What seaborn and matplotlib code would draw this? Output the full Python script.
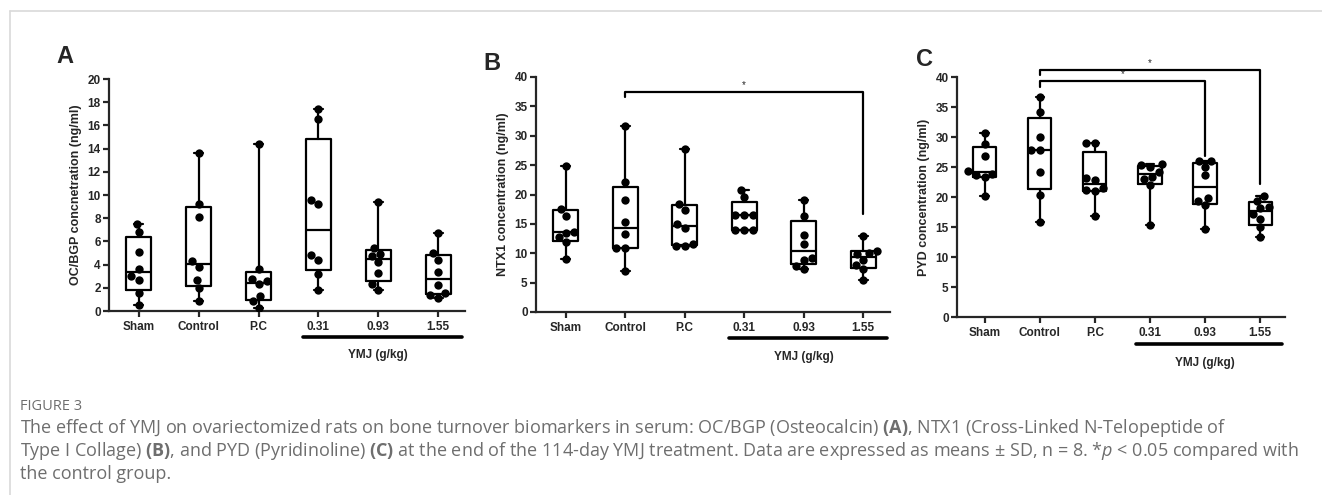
import numpy as np
import pandas as pd
import matplotlib
matplotlib.use("Agg")
import matplotlib.pyplot as plt
import matplotlib.transforms as mtransforms
from matplotlib.lines import Line2D
import seaborn as sns

# group labels on the x axis
groups = ["Sham", "Control", "P.C", "0.31", "0.93", "1.55"]

# individual animals (n = 8 per group)
oc_bgp = [
    [0.55, 1.55, 2.65, 3.0, 3.65, 5.05, 6.8, 7.5],
    [0.9, 2.0, 2.7, 3.8, 4.3, 8.1, 9.2, 13.6],
    [0.3, 0.85, 1.3, 2.3, 2.55, 2.8, 3.6, 14.4],
    [1.8, 3.2, 4.4, 4.8, 9.2, 9.6, 16.55, 17.4],
    [1.8, 2.3, 3.3, 4.2, 4.7, 4.9, 5.4, 9.4],
    [1.15, 1.4, 1.55, 2.2, 3.35, 4.4, 5.0, 6.75],
]
ntx1 = [
    [9.0, 11.9, 12.7, 13.5, 13.7, 16.4, 17.6, 24.8],
    [6.9, 10.9, 10.9, 13.3, 15.3, 19.0, 22.1, 31.6],
    [11.3, 11.3, 11.5, 14.3, 14.9, 17.4, 18.4, 27.7],
    [14.0, 14.0, 14.0, 16.5, 16.5, 16.5, 19.5, 20.8],
    [7.3, 7.9, 8.85, 9.25, 11.6, 13.1, 16.3, 19.0],
    [5.4, 7.3, 8.0, 8.9, 9.9, 10.0, 10.4, 13.0],
]
pyd = [
    [20.1, 23.3, 23.6, 23.9, 24.3, 26.8, 28.9, 30.7],
    [15.9, 20.4, 24.2, 27.9, 27.9, 30.0, 34.2, 36.7],
    [16.8, 21.0, 21.1, 21.5, 22.9, 23.1, 29.0, 29.0],
    [15.4, 22.0, 23.0, 23.4, 24.2, 25.0, 25.3, 25.5],
    [14.7, 18.6, 19.3, 19.9, 23.6, 25.0, 26.0, 26.0],
    [13.3, 15.0, 16.4, 17.1, 18.1, 18.3, 19.4, 20.2],
]

sns.set_style("ticks")
plt.rcParams["font.family"] = ["Liberation Sans", "DejaVu Sans"]
plt.rcParams["mathtext.fontset"] = "custom"
plt.rcParams["mathtext.rm"] = "Open Sans"
plt.rcParams["mathtext.bf"] = "Open Sans:bold"
plt.rcParams["mathtext.it"] = "Open Sans:italic"

LW = 1.6


def box_stats(vals):
    # GraphPad style box: (n+1)p quartiles, whiskers min to max
    v = np.asarray(vals)
    q1, med, q3 = np.percentile(v, [25, 50, 75], method="weibull")
    return dict(med=med, q1=q1, q3=q3, whislo=v.min(), whishi=v.max(), fliers=[])


def draw_panel(ax, values, ymax, ystep, ylabel):
    df = pd.DataFrame({
        "group": np.repeat(groups, [len(v) for v in values]),
        "value": np.concatenate(values),
    })
    sns.swarmplot(data=df, x="group", y="value", order=groups, color="black",
                  size=6, ax=ax, zorder=3)
    line = dict(color="black", linewidth=LW)
    ax.bxp([box_stats(v) for v in values], positions=range(len(groups)),
           widths=0.42, capwidths=0.15, showfliers=False, manage_ticks=False,
           boxprops=line, medianprops=line, whiskerprops=line, capprops=line)
    ax.set_xlim(-0.5, 5.45)
    ax.set_ylim(0, ymax)
    ax.set_yticks(np.arange(0, ymax + 0.1, ystep))
    ax.set_xticks(range(len(groups)))
    ax.set_xticklabels(groups, fontsize=8.5, fontweight="bold")
    ax.tick_params(axis="y", labelsize=8.5, width=LW, length=4, pad=2)
    ax.tick_params(axis="x", width=LW, length=4, pad=3)
    for lab in ax.get_yticklabels():
        lab.set_fontweight("bold")
    ax.set_xlabel("")
    ax.set_ylabel(ylabel, fontsize=9, fontweight="bold", labelpad=4)
    sns.despine(ax=ax)
    for side in ["left", "bottom"]:
        ax.spines[side].set_linewidth(LW)

    # "YMJ (g/kg)" underline below the dose groups
    trans = mtransforms.blended_transform_factory(ax.transData, ax.transAxes)
    ax.plot([2.75, 5.4], [-0.112, -0.112], color="black", lw=2.6,
            transform=trans, clip_on=False)
    ax.text(4, -0.19, "YMJ (g/kg)", transform=trans, ha="center", va="center",
            fontsize=8.5, fontweight="bold")


fig = plt.figure(figsize=(13.22, 4.95), dpi=100)
W, H = 1322, 495


def px_axes(left, right, top, bottom):
    return fig.add_axes([left / W, 1 - bottom / H, (right - left) / W, (bottom - top) / H])


axA = px_axes(109, 465, 79, 311)
axB = px_axes(536, 890, 77, 312)
axC = px_axes(957, 1285, 77, 317)

draw_panel(axA, oc_bgp, 20, 2, "OC/BGP concnetration (ng/ml)")
draw_panel(axB, ntx1, 40, 5, "NTX1 concentration (ng/ml)")
draw_panel(axC, pyd, 40, 5, "PYD concentration (ng/ml)")

# significance brackets
br = dict(color="black", lw=LW, clip_on=False)
axB.plot([1, 1, 5, 5], [36.6, 37.4, 37.4, 16.7], **br)
axB.text(3, 37.8, "*", ha="center", va="bottom", fontsize=7)
axC.plot([1, 1, 5, 5], [40.3, 41.2, 41.2, 22.1], **br)
axC.text(3, 41.5, "*", ha="center", va="bottom", fontsize=7)
axC.plot([1, 1, 4, 4], [38.3, 39.3, 39.3, 26.8], **br)
axC.text(2.5, 39.6, "*", ha="center", va="bottom", fontsize=7)

# panel letters
for x, y, s in [(56, 56, "A"), (483, 64, "B"), (916, 59, "C")]:
    fig.text(x / W, 1 - y / H, s, fontsize=17, fontweight="bold", va="center", ha="left")

# page frame
fig.add_artist(Line2D([10 / W, 1], [1 - 11 / H, 1 - 11 / H], color="#d9d9d9", lw=1.2))
fig.add_artist(Line2D([10 / W, 10 / W], [0, 1 - 11 / H], color="#d9d9d9", lw=1.2))

# caption
cap = dict(color="#6e6e6e", fontweight="normal", family=["Open Sans", "DejaVu Sans"])
fig.text(20 / W, 1 - 406 / H, "FIGURE 3", fontsize=10.5, va="center", **cap)
lines = [
    r"The effect of YMJ on ovariectomized rats on bone turnover biomarkers in serum: OC/BGP (Osteocalcin) $\mathbf{(A)}$, NTX1 (Cross-Linked N-Telopeptide of",
    r"Type I Collage) $\mathbf{(B)}$, and PYD (Pyridinoline) $\mathbf{(C)}$ at the end of the 114-day YMJ treatment. Data are expressed as means ± SD, n = 8. *$\it{p}$ < 0.05 compared with",
    "the control group.",
]
for i, t in enumerate(lines):
    fig.text(20 / W, 1 - (428 + 23 * i) / H, t, fontsize=13.0, va="center", **cap)

fig.savefig("out.png", dpi=100)
